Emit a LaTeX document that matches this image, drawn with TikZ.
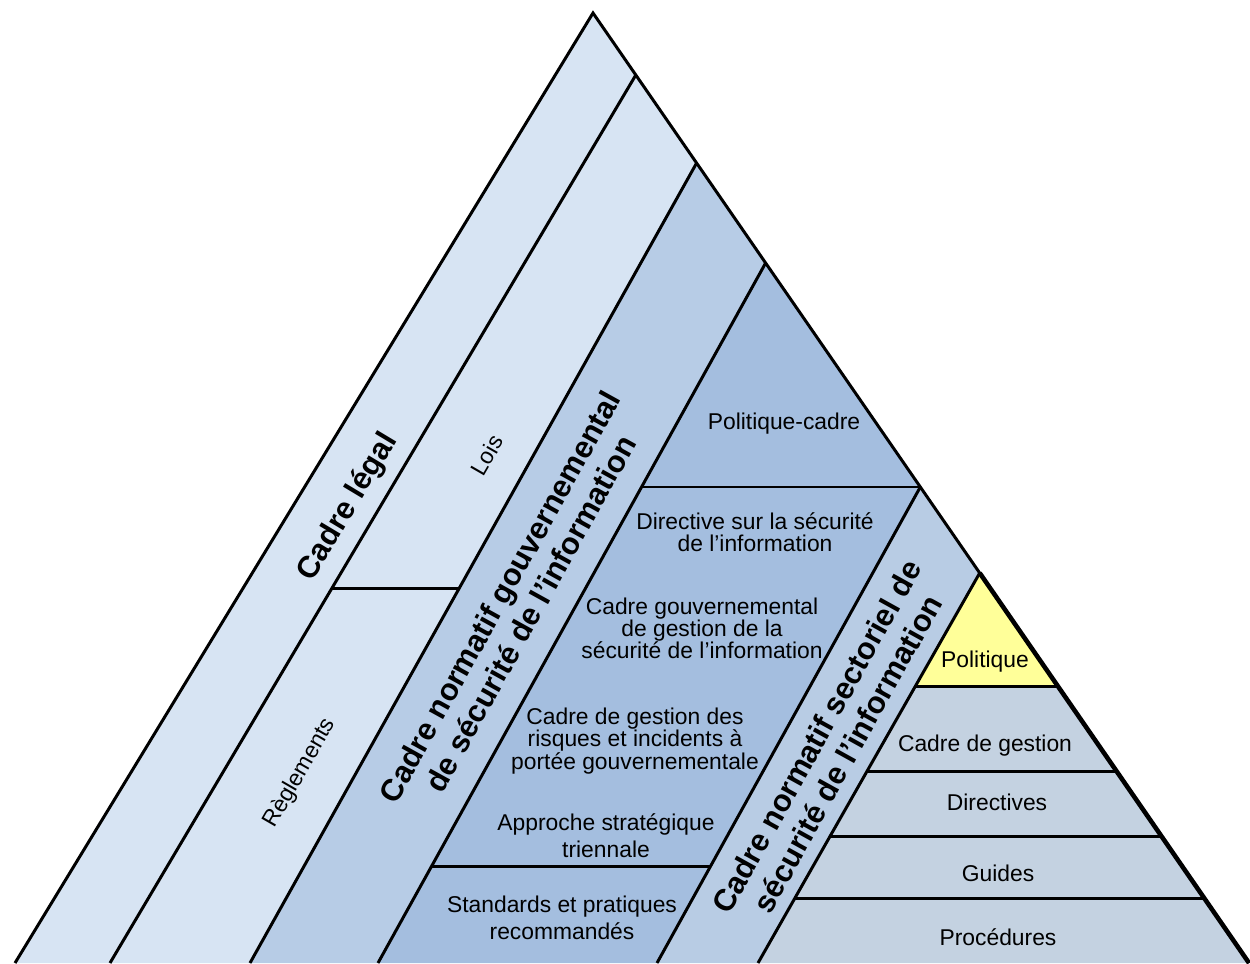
\documentclass[tikz,border=0pt]{standalone}
\usepackage{fontspec}
\setmainfont{Liberation Sans}
\usetikzlibrary{positioning}

\definecolor{legalblue}{HTML}{D7E4F3}
\definecolor{gouvblue}{HTML}{B7CCE6}
\definecolor{cadreblue}{HTML}{A4BEDF}
\definecolor{sectblue}{HTML}{B8CCE4}
\definecolor{stackgrey}{HTML}{C4D2E1}
\definecolor{polyellow}{HTML}{FFFF99}

\begin{document}
\begin{tikzpicture}[x=0.02cm,y=-0.02cm,
    divider/.style={line width=1.7pt},
    itemtext/.style={font=\fontsize{13}{12.6}\selectfont,align=center,inner sep=0pt},
    bigtitle/.style={font=\fontsize{17.5}{20}\selectfont\bfseries,align=center,inner sep=0pt}]
        \useasboundingbox (0,0) rectangle (1250,963);

        % outer edges and the tops of the columns on the right edge
        \coordinate (apex) at (593,13);
        \coordinate (baseL) at (15,963);
        \coordinate (baseR) at (1249,963);
        \coordinate (lawtop) at (635.8,75);
        \coordinate (gouvtop) at (696.6,163);
        \coordinate (cadretop) at (765.6,263);
        \coordinate (secttop) at (920.3,487);
        \coordinate (stacktop) at (979.7,573);
        \coordinate (lawbot) at (110,963);
        \coordinate (gouvbot) at (250,963);
        \coordinate (cadrebot) at (378,963);
        \coordinate (sectbot) at (657,963);
        \coordinate (stackbot) at (758,963);

        % fills
        \fill [legalblue] (apex) -- (baseL) -- (gouvbot) -- (gouvtop) -- cycle;
        \fill [gouvblue] (gouvtop) -- (gouvbot) -- (cadrebot) -- (cadretop) -- cycle;
        \fill [cadreblue] (cadretop) -- (cadrebot) -- (sectbot) -- (secttop) -- cycle;
        \fill [sectblue] (secttop) -- (sectbot) -- (stackbot) -- (stacktop) -- cycle;
        \fill [stackgrey] (stacktop) -- (stackbot) -- (baseR) -- cycle;
        \fill [polyellow] (stacktop) -- (915.5,686) -- (1057.7,686) -- cycle;

        % slanted lines
        \draw [divider] (baseL) -- (apex) -- (baseR);
        \draw [divider] (lawbot) -- (lawtop);
        \draw [divider] (gouvbot) -- (gouvtop);
        \draw [divider] (cadrebot) -- (cadretop);
        \draw [divider] (sectbot) -- (secttop);
        \draw [divider] (stackbot) -- (stacktop);
        \draw [line width=2.6pt] (stacktop) -- (baseR);

        % horizontal lines
        \draw [divider] (332,588) -- (459.4,588);
        \draw [divider] (641.6,487) -- (secttop);
        \draw [divider] (431.7,866) -- (710.7,866);
        \draw [divider] (915.5,686) -- (1057.7,686);
        \draw [divider] (867.2,771) -- (1116.4,771);
        \draw [divider] (830.2,836) -- (1161.3,836);
        \draw [divider] (795,898) -- (1204.1,898);

        % column titles
        \node [bigtitle,rotate=59] at (348,507) (legal) {Cadre légal};
        \node [itemtext,rotate=60] at (487,455) (lois) {Lois};
        \node [itemtext,rotate=60] at (300,773) (reglements) {Règlements};
        \node [bigtitle,rotate=61] at (515,605) (gouv) {Cadre normatif gouvernemental\\de sécurité de l’information};
        \node [bigtitle,rotate=61] at (832,745) (sect) {Cadre normatif sectoriel de\\sécurité de l’information};

        % government framework
        \node [itemtext] at (784,424) (polcadre) {Politique-cadre};
        \node [itemtext] at (755,532) (directive) {Directive sur la sécurité\\de l’information};
        \node [itemtext] at (702,628) (cadregouv) {Cadre gouvernemental\\de gestion de la\\sécurité de l’information};
        \node [itemtext] at (635,741) (risques) {Cadre de gestion des\\risques et incidents à\\portée gouvernementale};
        \node [itemtext,font=\fontsize{13}{15.3}\selectfont] at (606,836) (approche) {Approche stratégique\\triennale};
        \node [itemtext,font=\fontsize{13}{15.3}\selectfont] at (562,918) (standards) {Standards et pratiques\\recommandés};

        % sector framework
        \node [itemtext] at (985,662) (politique) {Politique};
        \node [itemtext] at (985,746) (cadregestion) {Cadre de gestion};
        \node [itemtext] at (997,802) (directives) {Directives};
        \node [itemtext] at (998,873) (guides) {Guides};
        \node [itemtext] at (998,937) (procedures) {Procédures};
      \end{tikzpicture}
\end{document}
